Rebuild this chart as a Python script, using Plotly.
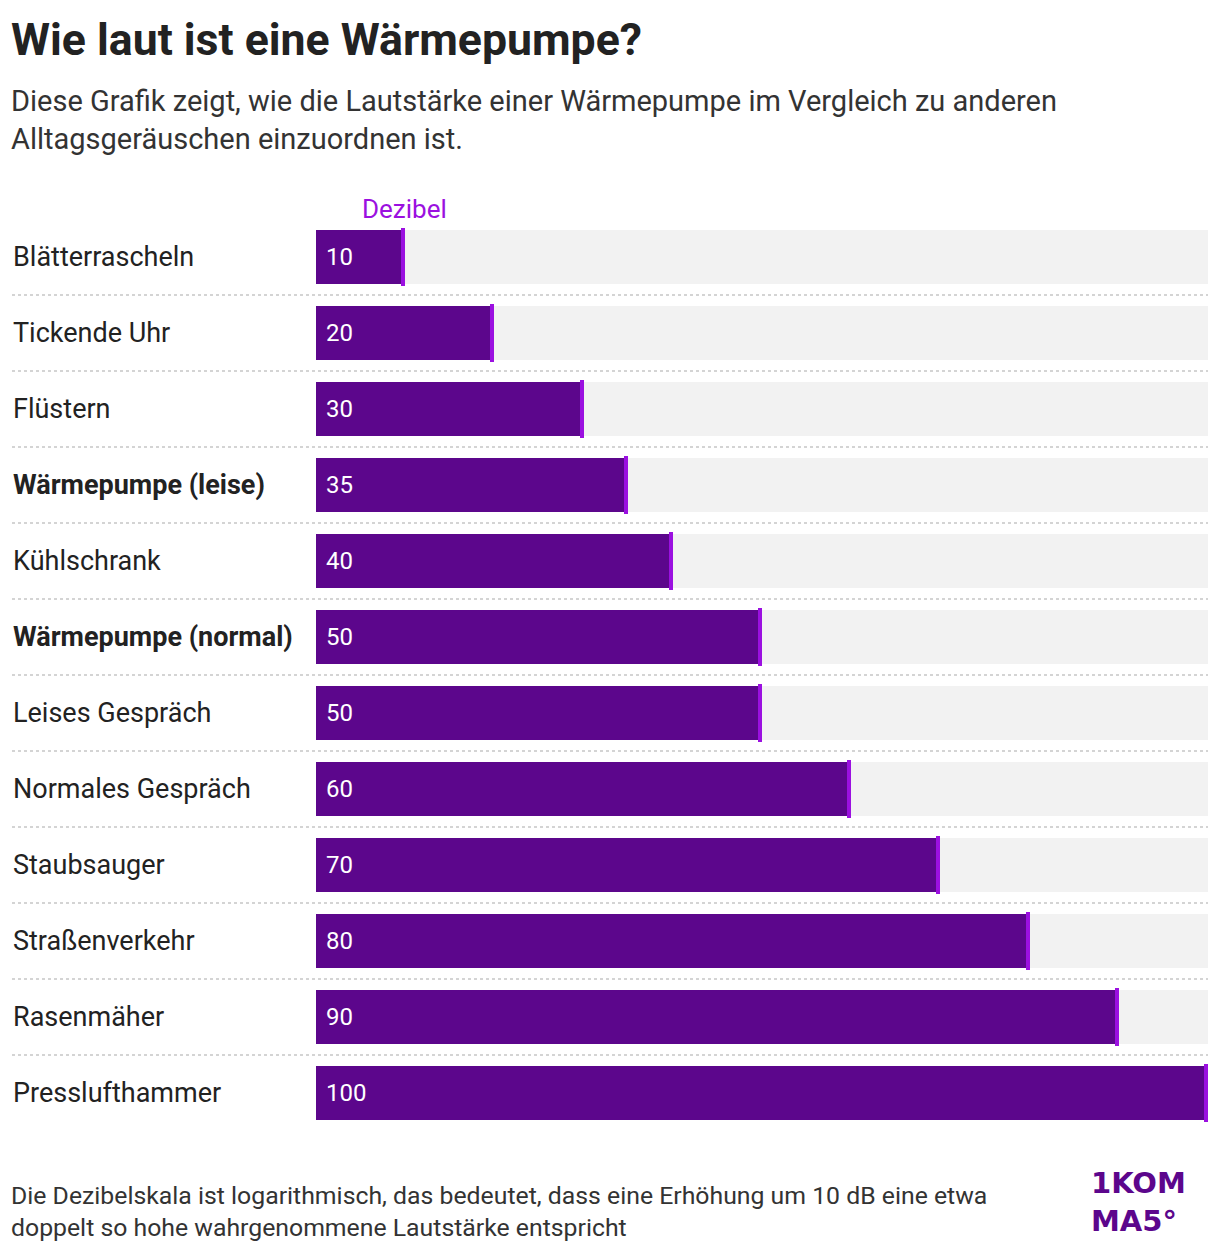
import plotly.graph_objects as go

categories = ["Blätterrascheln", "Tickende Uhr", "Flüstern", "Wärmepumpe (leise)", "Kühlschrank",
              "Wärmepumpe (normal)", "Leises Gespräch", "Normales Gespräch", "Staubsauger",
              "Straßenverkehr", "Rasenmäher", "Presslufthammer"]
decibel = [10, 20, 30, 35, 40, 50, 50, 60, 70, 80, 90, 100]
highlight = [False, False, False, True, False, True, False, False, False, False, False, False]
axis_max = 100

OFF = 8  # page body margin
W, H = 1220 - OFF, 1252 - OFF
L, R, T, B = 316 - OFF, 12, 219 - OFF, 121
PW, PH = W - L - R, H - T - B

def px_x(px):
    return (px - OFF - L) / PW

def px_y(py):
    return (H - B - (py - OFF)) / PH

BAR = "#5c068c"
ACCENT = "#9b10e0"
FONT = "Roboto, 'Noto Sans', sans-serif"

n = len(categories)
idx = list(range(n))
marker_len = 0.45

fig = go.Figure()
fig.add_trace(go.Bar(x=[axis_max] * n, y=idx, orientation="h", width=0.71,
                     marker=dict(color="#f2f2f2", line=dict(width=0)), hoverinfo="skip"))
fig.add_trace(go.Bar(x=decibel, y=idx, orientation="h", width=0.71,
                     marker=dict(color=BAR, line=dict(width=0)), hoverinfo="skip"))
fig.add_trace(go.Bar(x=[marker_len] * n, base=[v - marker_len for v in decibel], y=idx,
                     orientation="h", width=0.76,
                     marker=dict(color=ACCENT, line=dict(width=0)), hoverinfo="skip"))

ann = []
for i, (c, v, h) in enumerate(zip(categories, decibel, highlight)):
    ann.append(dict(x=px_x(11), xref="paper", y=i, yref="y", xanchor="left", yanchor="middle",
                    text=f"<b>{c}</b>" if h else c, showarrow=False,
                    font=dict(size=27, color="#222222", family=FONT)))
    ann.append(dict(x=0, xref="x", y=i, yref="y", xanchor="left", yanchor="middle", xshift=8,
                    text=str(v), showarrow=False, font=dict(size=24, color="white", family=FONT)))

ann.append(dict(x=px_x(360), xref="paper", y=px_y(209), yref="paper", xanchor="left", yanchor="middle",
                text="Dezibel", showarrow=False, font=dict(size=26, color=ACCENT, family=FONT)))
ann.append(dict(x=px_x(9), xref="paper", y=px_y(40), yref="paper", xanchor="left", yanchor="middle",
                text="<b>Wie laut ist eine Wärmepumpe?</b>", showarrow=False,
                font=dict(size=44.6, color="#222222", family=FONT)))
ann.append(dict(x=px_x(9), xref="paper", y=px_y(120), yref="paper", xanchor="left", yanchor="middle",
                text="Diese Grafik zeigt, wie die Lautstärke einer Wärmepumpe im Vergleich zu anderen<br>Alltagsgeräuschen einzuordnen ist.",
                showarrow=False, align="left",
                font=dict(size=29, color="#333333", family=FONT)))
ann.append(dict(x=px_x(9), xref="paper", y=px_y(1211), yref="paper", xanchor="left", yanchor="middle",
                text="Die Dezibelskala ist logarithmisch, das bedeutet, dass eine Erhöhung um 10 dB eine etwa<br>doppelt so hohe wahrgenommene Lautstärke entspricht",
                showarrow=False, align="left",
                font=dict(size=24.8, color="#333333", family=FONT)))
for txt, yy in (("1KOM", 1183), ("MA5°", 1221)):
    ann.append(dict(x=px_x(1089), xref="paper", y=px_y(yy), yref="paper", xanchor="left", yanchor="middle",
                    text=f"<b>{txt}</b>", showarrow=False,
                    font=dict(size=29, color=BAR, family="'DejaVu Sans', sans-serif")))

shapes = []
for i in range(n - 1):
    yp = 1 - (i + 1) / n
    shapes.append(dict(type="line", xref="paper", yref="paper", x0=px_x(12), x1=px_x(1208),
                       y0=yp, y1=yp, line=dict(color="#d4d4d4", width=2, dash="dot")))

fig.update_layout(
    width=W, height=H, barmode="overlay", showlegend=False,
    margin=dict(l=L, r=R, t=T, b=B),
    paper_bgcolor="white", plot_bgcolor="white",
    xaxis=dict(range=[0, axis_max], visible=False, fixedrange=True),
    yaxis=dict(range=[n - 0.5, -0.5], visible=False, fixedrange=True),
    annotations=ann, shapes=shapes, bargap=0,
)
fig.write_html("out.html")
